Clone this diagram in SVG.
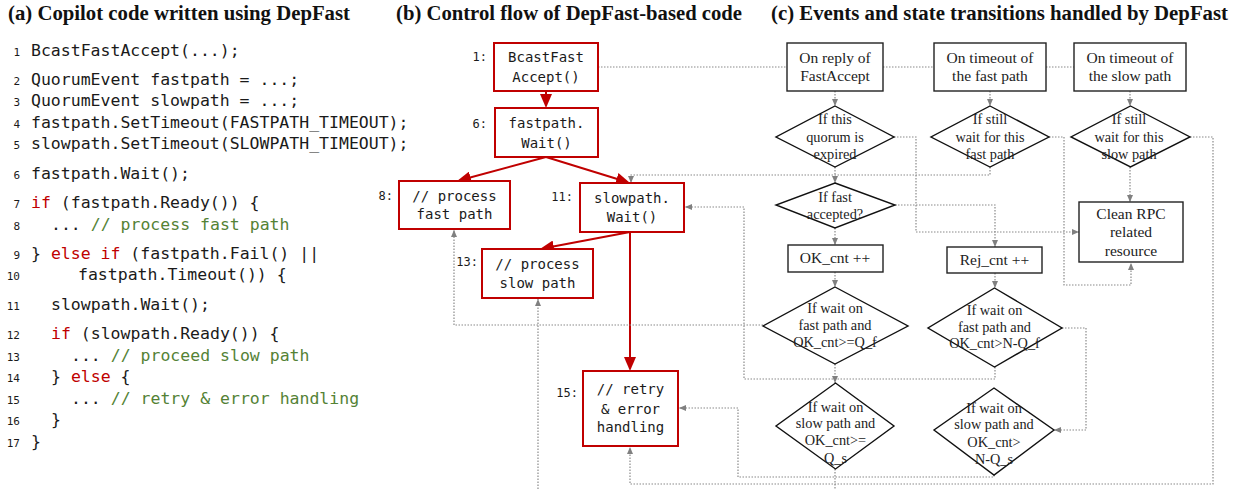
<svg xmlns="http://www.w3.org/2000/svg" width="1237" height="490" viewBox="0 0 1237 490">
<style>
.title{font-family:"Liberation Serif","Times New Roman",serif;font-weight:bold;font-size:20px;fill:#111}
.code{font-family:"DejaVu Sans Mono","Liberation Mono",monospace;font-size:16.5px;fill:#1a1a1a}
.ln{font-family:"DejaVu Sans Mono","Liberation Mono",monospace;font-size:11px;fill:#1a1a1a;text-anchor:end}
.kw{fill:#c00000}
.cm{fill:#548235}
.rbox{fill:#fff;stroke:#c00000;stroke-width:2}
.btxt{font-family:"DejaVu Sans Mono","Liberation Mono",monospace;font-size:14px;fill:#1a1a1a;text-anchor:middle}
.lbl{font-family:"DejaVu Sans Mono","Liberation Mono",monospace;font-size:12px;fill:#1a1a1a;text-anchor:end}
.red{fill:none;stroke:#c00000;stroke-width:2;marker-end:url(#ar)}
.dot{fill:none;stroke:#8a8a8a;stroke-width:1.2;stroke-dasharray:1.5 1.5}
.dota{fill:none;stroke:#8a8a8a;stroke-width:1.2;stroke-dasharray:1.5 1.5;marker-end:url(#ag)}
.kbox{fill:#fff;stroke:#222;stroke-width:1.4}
.dia{fill:#fff;stroke:#111;stroke-width:1.4}
.st{font-family:"Liberation Serif","Times New Roman",serif;font-size:15.5px;fill:#222;text-anchor:middle}
.dt{font-family:"Liberation Serif","Times New Roman",serif;font-size:14.3px;fill:#222;text-anchor:middle}
</style>
<defs>
<marker id="ar" markerUnits="userSpaceOnUse" markerWidth="14" markerHeight="12" refX="10" refY="6" orient="auto"><path d="M0,0 L14,6 L0,12 z" fill="#c00000"/></marker>
<marker id="ag" markerUnits="userSpaceOnUse" markerWidth="7" markerHeight="6" refX="7" refY="3" orient="auto"><path d="M0,0 L7,3 L0,6 z" fill="#808080"/></marker>
</defs>
<rect width="1237" height="490" fill="#fff"/>

<!-- titles -->
<text class="title" x="8" y="20" textLength="342" lengthAdjust="spacingAndGlyphs">(a) Copilot code written using DepFast</text>
<text class="title" x="396" y="20" textLength="346" lengthAdjust="spacingAndGlyphs">(b) Control flow of DepFast-based code</text>
<text class="title" x="771" y="20" textLength="457" lengthAdjust="spacingAndGlyphs">(c) Events and state transitions handled by DepFast</text>

<!-- (a) code -->
<g id="code">
<text class="ln" x="20" y="56">1</text><text class="code" x="31" y="56">BcastFastAccept(...);</text>
<text class="ln" x="20" y="85">2</text><text class="code" x="31" y="85">QuorumEvent fastpath = ...;</text>
<text class="ln" x="20" y="106">3</text><text class="code" x="31" y="106">QuorumEvent slowpath = ...;</text>
<text class="ln" x="20" y="128">4</text><text class="code" x="31" y="128">fastpath.SetTimeout(FASTPATH_TIMEOUT);</text>
<text class="ln" x="20" y="149">5</text><text class="code" x="31" y="149">slowpath.SetTimeout(SLOWPATH_TIMEOUT);</text>
<text class="ln" x="20" y="179">6</text><text class="code" x="31" y="179">fastpath.Wait();</text>
<text class="ln" x="20" y="208">7</text><text class="code" x="31" y="208"><tspan class="kw">if</tspan> (fastpath.Ready()) {</text>
<text class="ln" x="20" y="230">8</text><text class="code" x="51" y="230">... <tspan class="cm">// process fast path</tspan></text>
<text class="ln" x="20" y="259">9</text><text class="code" x="31" y="259">} <tspan class="kw">else if</tspan> (fastpath.Fail() ||</text>
<text class="ln" x="20" y="280">10</text><text class="code" x="78" y="280">fastpath.Timeout()) {</text>
<text class="ln" x="20" y="310">11</text><text class="code" x="51" y="310">slowpath.Wait();</text>
<text class="ln" x="20" y="339">12</text><text class="code" x="51" y="339"><tspan class="kw">if</tspan> (slowpath.Ready()) {</text>
<text class="ln" x="20" y="361">13</text><text class="code" x="71" y="361">... <tspan class="cm">// proceed slow path</tspan></text>
<text class="ln" x="20" y="382">14</text><text class="code" x="51" y="382">} <tspan class="kw">else</tspan> {</text>
<text class="ln" x="20" y="404">15</text><text class="code" x="71" y="404">... <tspan class="cm">// retry &amp; error handling</tspan></text>
<text class="ln" x="20" y="425">16</text><text class="code" x="51" y="425">}</text>
<text class="ln" x="20" y="447">17</text><text class="code" x="31" y="447">}</text>
</g>

<!-- connectors -->
<g id="connectors">
<path class="red" d="M546,91 L546,104"/>
<path class="red" d="M546,157 L460.9,180"/>
<path class="red" d="M546,157 L626.2,181.8"/>
<path class="red" d="M630,232 L543.9,248.3"/>
<path class="red" d="M630,232 L630,367"/>

<path class="dot" d="M598,67 L787,67"/>
<path class="dot" d="M883,67 L934,67"/>
<path class="dot" d="M1046,67 L1074,67"/>
<path class="dota" d="M835,91 L835,106"/>
<path class="dota" d="M990,91 L990,106"/>
<path class="dota" d="M1130,91 L1130,106"/>
<path class="dota" d="M835,167 L835,183"/>
<path class="dota" d="M990,167 L990,175 L631,175 L631,183"/>
<path class="dota" d="M894,137 L916,137 L916,232 L1079,232"/>
<path class="dota" d="M1130,167 L1130,202"/>
<path class="dota" d="M1049,137 L1064,137 L1064,285 L1131,285 L1131,263"/>
<path class="dota" d="M1190,137 L1213,137 L1213,484 L630,484 L630,447"/>
<path class="dota" d="M895,205 L995,205 L995,247"/>
<path class="dota" d="M835,228 L835,245"/>
<path class="dota" d="M835,272 L835,287"/>
<path class="dota" d="M995,273 L995,288"/>
<path class="dota" d="M763,325 L454,325 L454,230"/>
<path class="dota" d="M995,367 L995,379 L744,379 L744,207 L685,207"/>
<path class="dota" d="M835,364 L835,383"/>
<path class="dota" d="M1062,328 L1086,328 L1086,430 L1054,430"/>
<path class="dota" d="M994,475 L994,477 L738,477 L738,408 L679,408"/>
<path class="dota" d="M835,469 L835,500 L538,500 L538,299"/>
</g>

<!-- (b) nodes -->
<g id="n1"><rect class="rbox" x="494" y="43" width="104" height="48"/><text class="lbl" x="487" y="61">1:</text><text class="btxt" x="546" y="61.5">BcastFast</text><text class="btxt" x="546" y="81.5">Accept()</text></g>
<g id="n6"><rect class="rbox" x="495" y="108" width="103" height="49"/><text class="lbl" x="487" y="128">6:</text><text class="btxt" x="546.5" y="128">fastpath.</text><text class="btxt" x="546.5" y="147.5">Wait()</text></g>
<g id="n8"><rect class="rbox" x="399" y="181" width="111" height="48"/><text class="lbl" x="393" y="200">8:</text><text class="btxt" x="454.5" y="200.5">// process</text><text class="btxt" x="454.5" y="218.5">fast path</text></g>
<g id="n11"><rect class="rbox" x="580" y="183" width="104" height="49"/><text class="lbl" x="573" y="201">11:</text><text class="btxt" x="632" y="203">slowpath.</text><text class="btxt" x="632" y="222">Wait()</text></g>
<g id="n13"><rect class="rbox" x="482" y="249" width="111" height="49"/><text class="lbl" x="478" y="266">13:</text><text class="btxt" x="537.5" y="269">// process</text><text class="btxt" x="537.5" y="288">slow path</text></g>
<g id="n15"><rect class="rbox" x="583" y="371" width="95" height="75"/><text class="lbl" x="578" y="397">15:</text><text class="btxt" x="630.5" y="394">// retry</text><text class="btxt" x="630.5" y="414">&amp; error</text><text class="btxt" x="630.5" y="432">handling</text></g>

<!-- (c) nodes -->
<g id="ev-reply"><rect class="kbox" x="787" y="43" width="96" height="48"/><text class="st" x="835" y="63">On reply of</text><text class="st" x="835" y="81">FastAccept</text></g>
<g id="ev-fast-timeout"><rect class="kbox" x="934" y="43" width="112" height="48"/><text class="st" x="990" y="63">On timeout of</text><text class="st" x="990" y="81">the fast path</text></g>
<g id="ev-slow-timeout"><rect class="kbox" x="1074" y="43" width="112" height="48"/><text class="st" x="1130" y="63">On timeout of</text><text class="st" x="1130" y="81">the slow path</text></g>

<g id="d-expired"><polygon class="dia" points="835,106 894,137 835,167 776,137"/><text class="dt" x="835" y="124">If this</text><text class="dt" x="835" y="142">quorum is</text><text class="dt" x="835" y="159">expired</text></g>
<g id="d-still-fast"><polygon class="dia" points="990,106 1049,137 990,167 931,137"/><text class="dt" x="990" y="124">If still</text><text class="dt" x="990" y="142">wait for this</text><text class="dt" x="990" y="159">fast path</text></g>
<g id="d-still-slow"><polygon class="dia" points="1130.5,106 1190,137 1130.5,167 1071,137"/><text class="dt" x="1129" y="124">If still</text><text class="dt" x="1129" y="142">wait for this</text><text class="dt" x="1129" y="159">slow path</text></g>

<g id="d-accepted"><polygon class="dia" points="835,183 895,205 835,228 776,205"/><text class="dt" x="835" y="202">If fast</text><text class="dt" x="835" y="219">accepted?</text></g>

<g id="clean"><rect class="kbox" x="1079" y="202" width="104" height="60"/><text class="st" x="1131" y="219">Clean RPC</text><text class="st" x="1131" y="237">related</text><text class="st" x="1131" y="256">resource</text></g>

<g id="okcnt"><rect class="kbox" x="788" y="245" width="95" height="27"/><text class="st" x="835" y="263">OK_cnt ++</text></g>
<g id="rejcnt"><rect class="kbox" x="947" y="247" width="95" height="26"/><text class="st" x="994.5" y="265">Rej_cnt ++</text></g>

<g id="d-ok-fast"><polygon class="dia" points="835,287 908,326 835,364 763,326"/><text class="dt" x="835" y="313">If wait on</text><text class="dt" x="835" y="330">fast path and</text><text class="dt" x="835" y="347">OK_cnt&gt;=Q_f</text></g>
<g id="d-rej-fast"><polygon class="dia" points="994.5,288 1062,328 994.5,367 928,328"/><text class="dt" x="994.5" y="315">If wait on</text><text class="dt" x="994.5" y="332">fast path and</text><text class="dt" x="994.5" y="348">OK_cnt&gt;N-Q_f</text></g>
<g id="d-ok-slow"><polygon class="dia" points="835.5,383 894,426 835.5,469 776,426"/><text class="dt" x="835.5" y="412">If wait on</text><text class="dt" x="835.5" y="428">slow path and</text><text class="dt" x="835.5" y="445">OK_cnt&gt;=</text><text class="dt" x="835.5" y="463">Q_s</text></g>
<g id="d-rej-slow"><polygon class="dia" points="994,388 1054,430 994,475 934,430"/><text class="dt" x="994" y="413">If wait on</text><text class="dt" x="994" y="429">slow path and</text><text class="dt" x="994" y="447">OK_cnt&gt;</text><text class="dt" x="994" y="464">N-Q_s</text></g>
</svg>
